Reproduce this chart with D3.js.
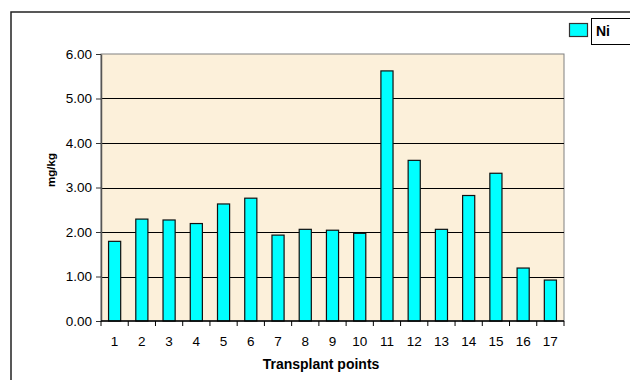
<!DOCTYPE html>
<html>
<head>
<meta charset="utf-8">
<script src="https://cdn.jsdelivr.net/npm/d3@7"></script>
<style>
  body { margin: 0; background: #fff; }
  svg { display: block; font-family: Arial, "Liberation Sans", sans-serif; }
</style>
</head>
<body>
<div id="chart"></div>
<script>
const points = ["1","2","3","4","5","6","7","8","9","10","11","12","13","14","15","16","17"]
const ni = [1.79, 2.29, 2.27, 2.19, 2.63, 2.76, 1.93, 2.06, 2.04, 1.97, 5.62, 3.61, 2.06, 2.82, 3.32, 1.19, 0.92]
const yTicks = [0, 1, 2, 3, 4, 5, 6]

const width = 630
const height = 380
const margin = {top: 54, right: 66, bottom: 59, left: 101}
const font = "Arial, 'Liberation Sans', sans-serif"

const svg = d3.select("#chart")
    .append("svg")
    .attr("width", width)
    .attr("height", height)
    .attr("viewBox", [0, 0, width, height])

const layer_bg = svg.append("g")
const layer_grid = svg.append("g")
const layer_bars = svg.append("g")
const layer_axes = svg.append("g")
const layer_legend = svg.append("g")

const x = d3.scaleBand()
    .domain(points)
    .range([margin.left, width - margin.right])
    .paddingInner(0.555)
    .paddingOuter(0.2775)

const y = d3.scaleLinear()
    .domain([0, 6])
    .range([height - margin.bottom, margin.top])

// outer chart frame (cut off on the right/bottom)
layer_bg.append("rect")
    .attr("x", 11)
    .attr("y", 12)
    .attr("width", width)
    .attr("height", height)
    .attr("fill", "#fff")
    .attr("stroke", "#222")
    .attr("stroke-width", 1.5)

// plot area
layer_bg.append("rect")
    .attr("x", margin.left)
    .attr("y", margin.top)
    .attr("width", width - margin.right - margin.left)
    .attr("height", height - margin.bottom - margin.top)
    .attr("fill", "#fcf0da")
    .attr("stroke", "#808080")
    .attr("stroke-width", 1)

layer_grid.selectAll("line")
    .data(yTicks.filter(d => d > 0 && d < 6))
    .join("line")
    .attr("x1", margin.left)
    .attr("x2", width - margin.right)
    .attr("y1", d => Math.round(y(d)) + 0.5)
    .attr("y2", d => Math.round(y(d)) + 0.5)
    .attr("stroke", "#000")
    .attr("stroke-width", 1)

layer_bars.selectAll("rect")
    .data(ni)
    .join("rect")
    .attr("x", (d, i) => x(points[i]))
    .attr("y", d => y(d))
    .attr("width", x.bandwidth())
    .attr("height", d => y(0) - y(d))
    .attr("fill", "#00ffff")
    .attr("stroke", "#111")
    .attr("stroke-width", 1.2)

// y axis
const yAxis = layer_axes.append("g")
    .attr("transform", `translate(${margin.left},0)`)
    .call(d3.axisLeft(y).tickValues(yTicks).tickFormat(d3.format(".2f")).tickSize(5).tickSizeOuter(0))
yAxis.select(".domain").attr("stroke", "#555").attr("stroke-width", 1.5)
yAxis.selectAll(".tick line").attr("stroke", "#333")
yAxis.selectAll(".tick text")
    .attr("x", -9)
    .style("font-size", "13.5px")
    .style("font-family", font)
    .attr("fill", "#000")

// x axis: ticks between categories
const xAxis = layer_axes.append("g")
    .attr("transform", `translate(0,${height - margin.bottom})`)
xAxis.append("line")
    .attr("x1", margin.left)
    .attr("x2", width - margin.right)
    .attr("stroke", "#000")
    .attr("stroke-width", 1.5)
const step = x.step()
xAxis.selectAll(".sep")
    .data(d3.range(points.length + 1))
    .join("line")
    .attr("class", "sep")
    .attr("x1", i => x.range()[0] + i * step)
    .attr("x2", i => x.range()[0] + i * step)
    .attr("y1", 0)
    .attr("y2", 5)
    .attr("stroke", "#000")
xAxis.selectAll("text")
    .data(points)
    .join("text")
    .attr("x", d => x(d) + x.bandwidth() / 2)
    .attr("y", 25)
    .attr("text-anchor", "middle")
    .style("font-size", "13.5px")
    .attr("fill", "#000")
    .text(d => d)

layer_axes.append("text")
    .attr("x", 321)
    .attr("y", 369)
    .attr("text-anchor", "middle")
    .style("font-size", "14px")
    .style("font-weight", "bold")
    .text("Transplant points")

layer_axes.append("text")
    .attr("transform", `translate(55,${170}) rotate(-90)`)
    .attr("text-anchor", "middle")
    .style("font-size", "11.5px")
    .style("font-weight", "bold")
    .text("mg/kg")

// legend
layer_legend.append("rect")
    .attr("x", 591.5)
    .attr("y", 18.5)
    .attr("width", 60)
    .attr("height", 26)
    .attr("fill", "#fff")
    .attr("stroke", "#000")
    .attr("stroke-width", 1)
layer_legend.append("rect")
    .attr("x", 569.5)
    .attr("y", 23.5)
    .attr("width", 18)
    .attr("height", 13)
    .attr("fill", "#00ffff")
    .attr("stroke", "#333")
    .attr("stroke-width", 1.2)
layer_legend.append("text")
    .attr("x", 596)
    .attr("y", 36)
    .style("font-size", "14px")
    .style("font-weight", "bold")
    .text("Ni")
</script>
</body>
</html>
